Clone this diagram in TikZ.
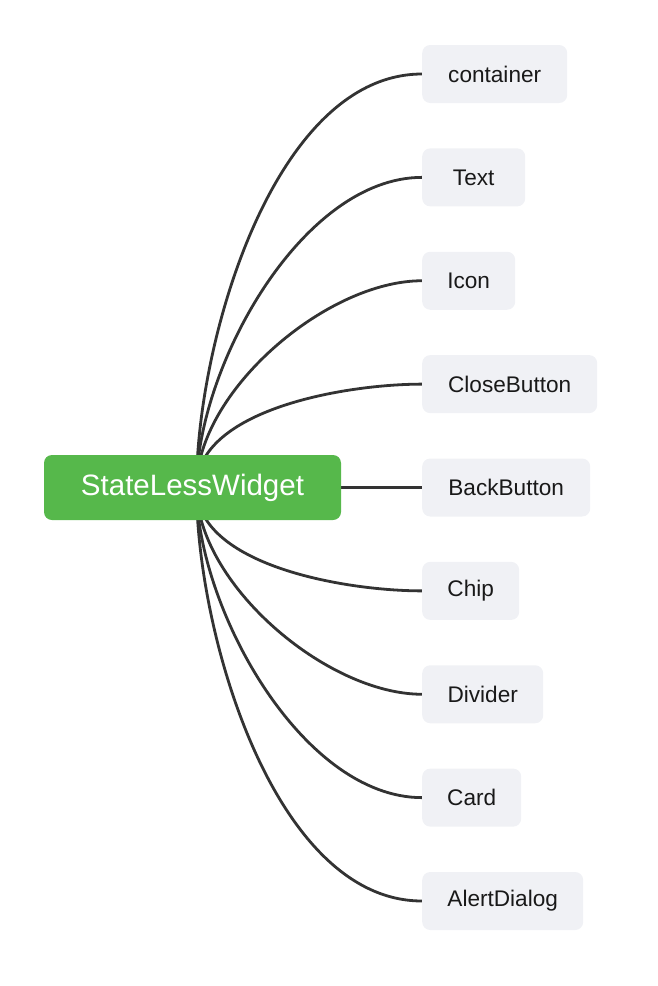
\documentclass[tikz,border=0pt]{standalone}
\usepackage{fontspec}
\setmainfont{Liberation Sans}
\usetikzlibrary{backgrounds}
\definecolor{rootgreen}{RGB}{86,184,75}
\definecolor{leafgray}{RGB}{240,241,245}
\definecolor{linegray}{RGB}{51,51,51}

\begin{document}
\begin{tikzpicture}[x=1pt,y=1pt,
  every node/.style = {shape=rectangle, rounded corners=8pt,
    inner sep=0pt, align=center},
  root/.style = {fill=rootgreen, text=white,
    minimum width=297pt, minimum height=65pt,
    font=\fontsize{29.5}{32}\selectfont},
  leaf/.style = {fill=leafgray, text=black!90, anchor=west,
    minimum height=58pt, font=\fontsize{22.6}{26}\selectfont},
  link/.style = {draw=linegray, line width=2.8pt}]
  \useasboundingbox (0,0) rectangle (658,-986);
  \node[root] (root) at (192.5,-487.5) {StateLessWidget};
  \foreach \txt/\w [count=\i] in {container/145, Text/103, Icon/93,
      CloseButton/175, BackButton/168, Chip/97, Divider/121, Card/99,
      AlertDialog/161}
    \node[leaf, minimum width=\w pt] (n\i) at (422,{-74-103.375*(\i-1)}) {\txt};
  \begin{scope}[on background layer]
    \foreach \i in {1,...,4}
      \draw[link] ([xshift=4pt]root.center) to[out=90,in=180,looseness=0.8] (n\i.west);
    \draw[link] (root.east) -- (n5.west);
    \foreach \i in {6,...,9}
      \draw[link] ([xshift=4pt]root.center) to[out=-90,in=180,looseness=0.8] (n\i.west);
  \end{scope}
\end{tikzpicture}
\end{document}
